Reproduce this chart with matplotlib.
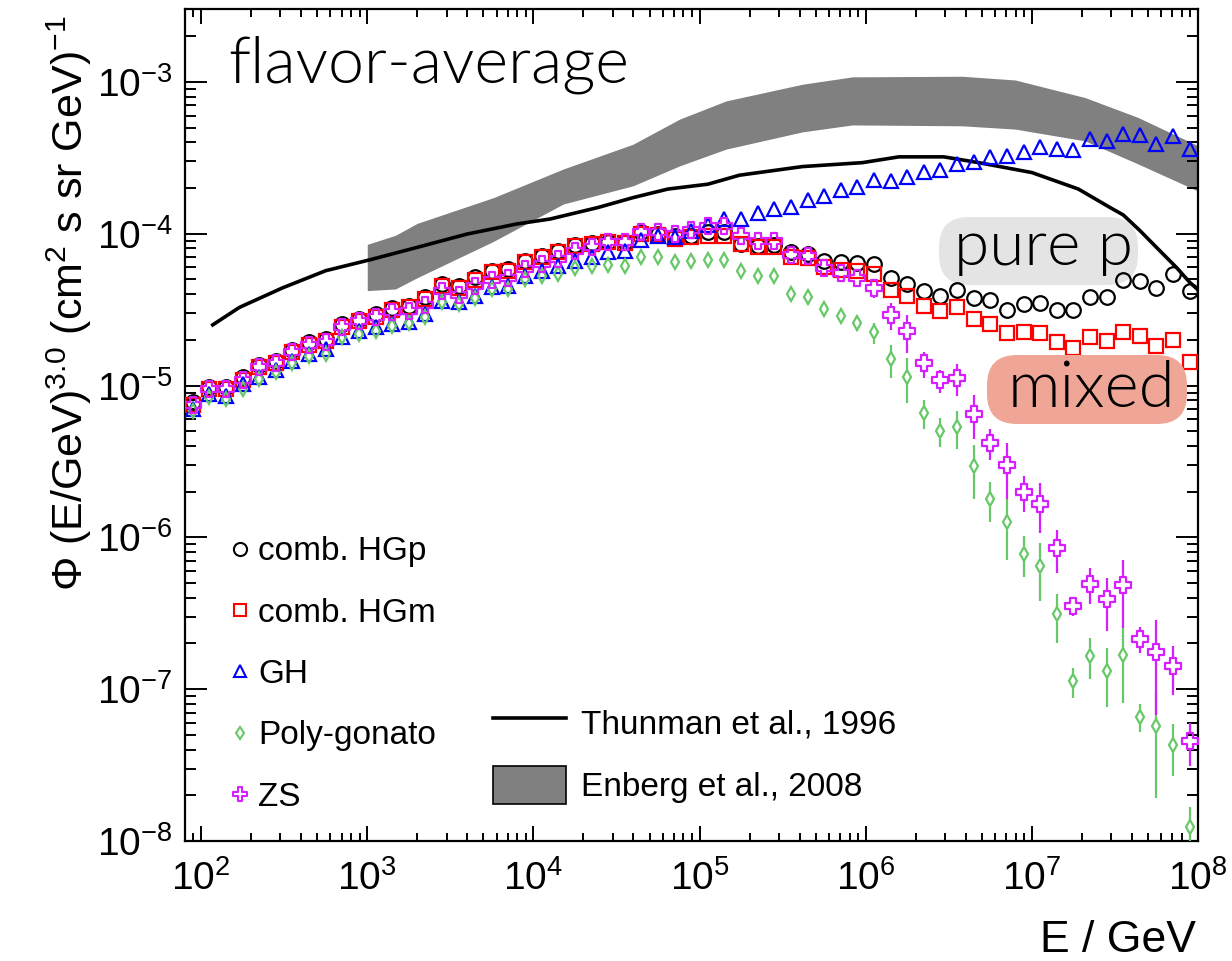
import numpy as np
import matplotlib
matplotlib.use("Agg")
import matplotlib.pyplot as plt
from matplotlib.path import Path
from matplotlib.patches import FancyBboxPatch, Patch
from matplotlib.lines import Line2D
from matplotlib.transforms import IdentityTransform
from matplotlib.ticker import LogLocator, NullFormatter

plt.rcParams["font.family"] = ["Liberation Sans", "DejaVu Sans"]
plt.rcParams["mathtext.fontset"] = "custom"
plt.rcParams["mathtext.rm"] = "Liberation Sans"
plt.rcParams["mathtext.it"] = "Liberation Sans:italic"
plt.rcParams["mathtext.default"] = "regular"

# ---------- data ----------
# log10(E/GeV) bin centres
lgE = [1.95, 2.05, 2.15, 2.25, 2.35, 2.45, 2.55, 2.65, 2.75, 2.85,
       2.95, 3.05, 3.15, 3.25, 3.35, 3.45, 3.55, 3.65, 3.75, 3.85,
       3.95, 4.05, 4.15, 4.25, 4.35, 4.45, 4.55, 4.65, 4.75, 4.85,
       4.95, 5.05, 5.15, 5.25, 5.35, 5.45, 5.55, 5.65, 5.75, 5.85,
       5.95, 6.05, 6.15, 6.25, 6.35, 6.45, 6.55, 6.65, 6.75, 6.85,
       6.95, 7.05, 7.15, 7.25, 7.35, 7.45, 7.55, 7.65, 7.75, 7.85,
       7.95]

hgp = [7.76e-6, 9.75e-6, 9.75e-6, 1.14e-5, 1.36e-5, 1.46e-5, 1.72e-5, 1.93e-5, 2.03e-5, 2.55e-5,
       2.75e-5, 2.96e-5, 3.24e-5, 3.36e-5, 3.81e-5, 4.67e-5, 4.55e-5, 5.16e-5, 5.71e-5, 5.86e-5,
       6.64e-5, 7.16e-5, 7.73e-5, 8.41e-5, 8.63e-5, 8.85e-5, 8.77e-5, 1.02e-4, 9.95e-5, 9.70e-5,
       9.70e-5, 1.02e-4, 1.02e-4, 8.55e-5, 8.34e-5, 8.41e-5, 7.53e-5, 7.35e-5, 6.58e-5, 6.55e-5,
       6.38e-5, 6.35e-5, 5.09e-5, 4.67e-5, 4.18e-5, 3.91e-5, 4.26e-5, 3.78e-5, 3.68e-5, 3.15e-5,
       3.44e-5, 3.50e-5, 3.15e-5, 3.15e-5, 3.81e-5, 3.81e-5, 4.95e-5, 4.85e-5, 4.40e-5, 5.43e-5,
       4.22e-5]
hgp_err = [0.0] * 39 + [
       1.5e-6, 1.5e-6, 1.5e-6, 2.0e-6, 2.0e-6, 2.0e-6, 2.0e-6, 4.5e-6, 2.0e-6, 2.0e-6, 3.5e-6,
       2.0e-6, 2.0e-6, 2.0e-6, 2.0e-6, 2.5e-6, 2.5e-6, 3.0e-6, 2.5e-6, 4.0e-6, 3.0e-6, 3.5e-6]

hgm = [7.50e-6, 9.51e-6, 9.51e-6, 1.09e-5, 1.32e-5, 1.41e-5, 1.66e-5, 1.85e-5, 1.98e-5, 2.44e-5,
       2.65e-5, 2.84e-5, 3.15e-5, 3.27e-5, 3.72e-5, 4.55e-5, 4.40e-5, 4.95e-5, 5.56e-5, 5.71e-5,
       6.47e-5, 6.98e-5, 7.53e-5, 8.34e-5, 8.55e-5, 8.77e-5, 8.63e-5, 9.95e-5, 9.79e-5, 9.23e-5,
       9.46e-5, 9.70e-5, 9.70e-5, 8.55e-5, 8.20e-5, 8.20e-5, 7.06e-5, 6.92e-5, 6.07e-5, 5.75e-5,
       5.66e-5, 5.43e-5, 4.29e-5, 3.87e-5, 3.33e-5, 3.11e-5, 3.27e-5, 2.75e-5, 2.55e-5, 2.22e-5,
       2.24e-5, 2.21e-5, 1.93e-5, 1.77e-5, 2.08e-5, 1.96e-5, 2.26e-5, 2.13e-5, 1.81e-5, 2.00e-5,
       1.42e-5]
hgm_err = [0.0] * 39 + [
       1.0e-6, 1.0e-6, 1.0e-6, 1.2e-6, 1.2e-6, 2.0e-6, 1.0e-6, 1.2e-6, 2.0e-6, 1.0e-6, 1.0e-6,
       1.0e-6, 1.0e-6, 1.0e-6, 1.0e-6, 1.0e-6, 1.0e-6, 1.0e-6, 1.0e-6, 2.0e-6, 2.0e-6, 1.5e-6]

gh = [7.03e-6, 8.81e-6, 8.59e-6, 1.03e-5, 1.14e-5, 1.26e-5, 1.46e-5, 1.62e-5, 1.74e-5, 2.08e-5,
      2.30e-5, 2.42e-5, 2.55e-5, 2.61e-5, 2.96e-5, 3.62e-5, 3.53e-5, 3.91e-5, 4.44e-5, 4.55e-5,
      5.30e-5, 5.71e-5, 6.15e-5, 6.64e-5, 7.06e-5, 7.53e-5, 7.73e-5, 9.08e-5, 9.70e-5, 9.46e-5,
      1.05e-4, 1.15e-4, 1.25e-4, 1.25e-4, 1.36e-4, 1.45e-4, 1.51e-4, 1.67e-4, 1.78e-4, 1.94e-4,
      2.04e-4, 2.26e-4, 2.23e-4, 2.38e-4, 2.57e-4, 2.64e-4, 2.90e-4, 2.98e-4, 3.18e-4, 3.23e-4,
      3.43e-4, 3.70e-4, 3.61e-4, 3.56e-4, 4.20e-4, 4.09e-4, 4.57e-4, 4.48e-4, 3.93e-4, 4.42e-4,
      3.64e-4]

polygonato = [6.85e-6, 8.38e-6, 8.17e-6, 9.51e-6, 1.11e-5, 1.23e-5, 1.41e-5, 1.57e-5, 1.62e-5, 2.08e-5,
              2.19e-5, 2.30e-5, 2.48e-5, 2.57e-5, 2.81e-5, 3.53e-5, 3.44e-5, 3.78e-5, 4.33e-5, 4.33e-5,
              5.04e-5, 5.30e-5, 5.43e-5, 5.94e-5, 6.15e-5, 6.25e-5, 6.15e-5, 7.06e-5, 6.98e-5, 6.55e-5,
              6.64e-5, 6.75e-5, 6.71e-5, 5.65e-5, 5.24e-5, 5.24e-5, 4.01e-5, 3.85e-5, 3.20e-5, 2.89e-5,
              2.59e-5, 2.24e-5, 1.49e-5, 1.14e-5, 6.58e-6, 5.01e-6, 5.32e-6, 2.93e-6, 1.78e-6, 1.26e-6,
              7.82e-7, 6.47e-7, 3.11e-7, 1.13e-7, 1.66e-7, 1.32e-7, 1.67e-7, 6.58e-8, 5.71e-8, 4.29e-8,
              1.23e-8]
polygonato_err = [0.0] * 33 + [
       4.0e-6, 4.0e-6, 4.0e-6, 4.0e-6, 4.5e-6, 3.0e-6, 3.0e-6, 3.0e-6, 3.5e-6, 3.6e-6,
       3.7e-6, 1.4e-6, 1.1e-6, 1.5e-6, 1.15e-6, 5.2e-7, 5.5e-7, 2.35e-7, 2.65e-7, 1.1e-7,
       2.5e-8, 5.0e-8, 5.6e-8, 8.6e-8, 1.35e-8, 3.8e-8, 1.63e-8, 4.5e-9]

zs = [7.50e-6, 9.51e-6, 9.51e-6, 1.09e-5, 1.32e-5, 1.41e-5, 1.66e-5, 1.85e-5, 1.93e-5, 2.44e-5,
      2.65e-5, 2.81e-5, 3.07e-5, 3.11e-5, 3.41e-5, 4.17e-5, 3.97e-5, 4.55e-5, 4.98e-5, 5.10e-5,
      5.86e-5, 6.32e-5, 6.82e-5, 7.73e-5, 8.13e-5, 8.77e-5, 8.85e-5, 1.02e-4, 1.02e-4, 9.95e-5,
      1.06e-4, 1.13e-4, 1.13e-4, 9.70e-5, 8.91e-5, 8.99e-5, 7.28e-5, 7.16e-5, 5.92e-5, 5.52e-5,
      5.13e-5, 4.37e-5, 2.92e-5, 2.28e-5, 1.40e-5, 1.08e-5, 1.12e-5, 6.52e-6, 4.21e-6, 2.98e-6,
      1.99e-6, 1.67e-6, 8.51e-7, 3.52e-7, 4.95e-7, 3.91e-7, 4.83e-7, 2.15e-7, 1.76e-7, 1.42e-7,
      4.57e-8]
zs_err = [0.0] * 30 + [
       3.0e-6, 3.0e-6, 3.0e-6, 3.0e-6, 3.0e-6, 3.0e-6, 3.0e-6, 3.0e-6, 3.0e-6, 3.0e-6,
       4.0e-6, 6.0e-6, 6.0e-6, 6.5e-6, 2.7e-6, 1.8e-6, 2.7e-6, 2.1e-6, 1.0e-6, 1.2e-6,
       5.3e-7, 6.0e-7, 2.7e-7, 5.0e-8, 1.3e-7, 1.5e-7, 2.3e-7, 4.3e-8, 1.08e-7, 5.0e-8,
       1.45e-8]

# Thunman et al. 1996 curve
thunman_lgE = [2.07, 2.23, 2.49, 2.75, 3.01, 3.30, 3.60, 3.90, 4.10, 4.39,
               4.60, 4.81, 5.05, 5.24, 5.62, 5.98, 6.20, 6.47, 6.68, 7.00,
               7.28, 7.47, 7.55, 7.65, 7.77, 7.87, 7.95, 8.00]
thunman_flux = [2.51e-5, 3.27e-5, 4.40e-5, 5.71e-5, 6.71e-5, 8.13e-5, 9.95e-5, 1.16e-4, 1.25e-4, 1.49e-4,
                1.73e-4, 1.97e-4, 2.12e-4, 2.43e-4, 2.77e-4, 2.94e-4, 3.21e-4, 3.21e-4, 2.94e-4, 2.53e-4,
                1.97e-4, 1.49e-4, 1.33e-4, 1.05e-4, 7.73e-5, 6.00e-5, 4.79e-5, 4.27e-5]

# Enberg et al. 2008 band
enberg_lgE = [3.00, 3.17, 3.30, 3.76, 4.18, 4.60, 4.88, 5.16, 5.62, 5.92, 6.58, 6.90, 7.32, 7.64, 8.00]
enberg_hi = [8.51e-5, 9.77e-5, 1.17e-4, 1.73e-4, 2.67e-4, 3.89e-4, 5.69e-4, 7.50e-4, 9.66e-4, 1.08e-3,
             1.09e-3, 1.03e-3, 7.89e-4, 5.83e-4, 3.80e-4]
enberg_lo = [4.22e-5, 4.33e-5, 5.13e-5, 8.91e-5, 1.57e-4, 2.07e-4, 2.80e-4, 3.61e-4, 4.69e-4, 5.21e-4,
             5.14e-4, 4.89e-4, 4.09e-4, 2.88e-4, 1.91e-4]

x_ticks = [1e2, 1e3, 1e4, 1e5, 1e6, 1e7, 1e8]
y_ticks = [1e-8, 1e-7, 1e-6, 1e-5, 1e-4, 1e-3]

# ---------- styles ----------
# open cross (ROOT marker 28)
a = 0.36
open_cross = Path([(-a, 1), (a, 1), (a, a), (1, a), (1, -a), (a, -a), (a, -1), (-a, -1),
                   (-a, -a), (-1, -a), (-1, a), (-a, a), (-a, 1)], closed=True)

GREEN = "#66c866"
MAGENTA = "#d61eff"
series = [
    ("comb. HGp", hgp, hgp_err, "o", "black", 10.5),
    ("comb. HGm", hgm, hgm_err, "s", "#ff0000", 9.5),
    ("GH", gh, None, "^", "#0000ff", 10),
    ("Poly-gonato", polygonato, polygonato_err, "d", GREEN, 7.2),
    ("ZS", zs, zs_err, open_cross, MAGENTA, 11),
]
LIGHT = dict(family=["Lato", "DejaVu Sans"], fontweight=300)

W, H = 1232, 961
fig = plt.figure(figsize=(W / 100, H / 100), dpi=100)
ax = fig.add_axes([185 / W, (H - 841) / H, (1198 - 185) / W, (841 - 9.5) / H])
ax.set_xscale("log")
ax.set_yscale("log")

E = 10 ** np.array(lgE)

ax.fill_between(10 ** np.array(enberg_lgE), enberg_lo, enberg_hi,
                color="#808080", lw=0, zorder=1)
ax.plot(10 ** np.array(thunman_lgE), thunman_flux, color="black", lw=2.6, zorder=2)

# error bars with a gap around the marker (ROOT style)
gap = 10 ** 0.05
for name, vals, err, mk, col, ms in series:
    v = np.array(vals)
    if err is not None:
        e = np.array(err)
        up_lo, up_hi = v * gap, v + e
        m = up_hi > up_lo
        ax.vlines(E[m], up_lo[m], up_hi[m], color=col, lw=1.6, zorder=3)
        dn_hi, dn_lo = v / gap, np.clip(v - e, 1e-12, None)
        m = dn_lo < dn_hi
        ax.vlines(E[m], dn_lo[m], dn_hi[m], color=col, lw=1.6, zorder=3)
    ax.plot(E, v, ls="none", marker=mk, ms=ms, mfc="none", mec=col, mew=1.6, zorder=4)

# ---------- axes styling ----------
for s in ax.spines.values():
    s.set_linewidth(1.6)
ax.set_xticks(x_ticks)
ax.set_yticks(y_ticks)
ax.xaxis.set_minor_locator(LogLocator(base=10, subs=np.arange(2, 10), numticks=20))
ax.yaxis.set_minor_locator(LogLocator(base=10, subs=np.arange(2, 10), numticks=20))
ax.xaxis.set_minor_formatter(NullFormatter())
ax.yaxis.set_minor_formatter(NullFormatter())
ax.set_xlim(80, 1e8)
ax.set_ylim(1e-8, 3e-3)
ax.tick_params(which="both", direction="in", top=True, right=True, width=1.4,
               labelsize=28)
ax.tick_params(axis="x", which="major", length=11, pad=14)
ax.tick_params(axis="x", which="minor", length=5.5)
ax.tick_params(axis="y", which="major", length=16, pad=9)
ax.tick_params(axis="y", which="minor", length=8)

fig.text(83, H - 303, "Φ (E/GeV)$^{3.0}$ (cm$^{2}$ s sr GeV)$^{-1}$", transform=IdentityTransform(),
         rotation=90, rotation_mode="anchor", ha="center", va="baseline", fontsize=31)
fig.text(1196, H - 952, "E / GeV", transform=IdentityTransform(), ha="right", va="baseline",
         fontsize=32)

# ---------- annotations ----------
fig.text(228, H - 83, "flavor-average", transform=IdentityTransform(), ha="left", va="baseline",
         fontsize=46.5, **LIGHT)

box_p = FancyBboxPatch((939, H - 285), 199, 68, boxstyle="round,pad=0,rounding_size=30",
                       transform=IdentityTransform(), facecolor="#e4e4e4", edgecolor="none",
                       zorder=2.5)
ax.add_artist(box_p)
box_m = FancyBboxPatch((987, H - 424), 200, 69, boxstyle="round,pad=0,rounding_size=30",
                       transform=IdentityTransform(), facecolor="#efa696", edgecolor="none",
                       zorder=5)
ax.add_artist(box_m)
ax.text(1044, H - 265, "pure p", transform=IdentityTransform(), ha="center", va="baseline",
        fontsize=46, zorder=3, **LIGHT)
ax.text(1091, H - 407, "mixed", transform=IdentityTransform(), ha="center", va="baseline",
        fontsize=47, zorder=6, **LIGHT)

# ---------- legends ----------
h1 = [Line2D([], [], ls="none", marker=mk, ms=ms * 0.9, mfc="none", mec=col, mew=1.5)
      for name, vals, err, mk, col, ms in series]
leg1 = ax.legend(h1, [s[0] for s in series], loc="lower left",
                 bbox_to_anchor=(0.044, 0.034), frameon=False, fontsize=24,
                 handlelength=0.6, handletextpad=0.25, labelspacing=0.91, borderpad=0,
                 borderaxespad=0)
ax.add_artist(leg1)
h2 = [Line2D([], [], color="black", lw=2.6),
      Patch(facecolor="#808080", edgecolor="black", lw=1.2)]
ax.legend(h2, ["Thunman et al., 1996", "Enberg et al., 2008"], loc="lower left",
          bbox_to_anchor=(0.304, 0.044), frameon=False, fontsize=24,
          handlelength=2.2, handleheight=1.4, handletextpad=0.45, labelspacing=0.73,
          borderpad=0, borderaxespad=0)

fig.savefig("out.png", dpi=100)
